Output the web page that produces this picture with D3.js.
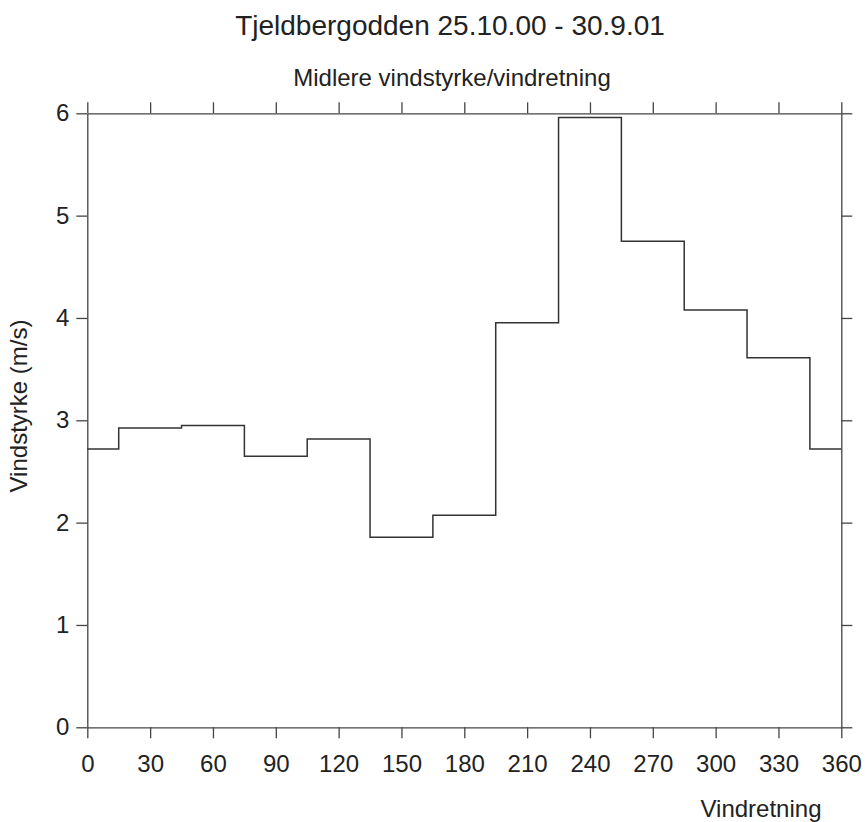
<!DOCTYPE html>
<html>
<head>
<meta charset="utf-8">
<script src="https://cdn.jsdelivr.net/npm/d3@7"></script>
<style>
  body { margin: 0; background: #fff; }
  text { font-family: "Liberation Sans", Arial, sans-serif; fill: #222; }
</style>
</head>
<body>
<div id="graph"></div>
<script>
// sector centres (deg) and mean wind speed (m/s)
var directions = [0, 30, 60, 90, 120, 150, 180, 210, 240, 270, 300, 330];
var speeds = [2.72, 2.925, 2.95, 2.648, 2.817, 1.857, 2.072, 3.954, 5.96, 4.749, 4.078, 3.612];
var xTicks = [0, 30, 60, 90, 120, 150, 180, 210, 240, 270, 300, 330, 360];
var yTicks = [0, 1, 2, 3, 4, 5, 6];

var title = "Tjeldbergodden 25.10.00 - 30.9.01",
    subtitle = "Midlere vindstyrke/vindretning",
    xLabel = "Vindretning",
    yLabel = "Vindstyrke (m/s)";

var margin = {top: 113.3, right: 23.7, bottom: 94.7, left: 87.3},
    width = 865 - margin.left - margin.right,
    height = 822 - margin.top - margin.bottom;

var root = d3.select("#graph")
  .append("svg")
    .attr("width", 865)
    .attr("height", 822);

var svg = root.append("g")
    .attr("transform", "translate(" + margin.left + "," + margin.top + ")");

var x = d3.scaleLinear().domain([0, 360]).range([0, width]);
var y = d3.scaleLinear().domain([0, 6]).range([height, 0]);

var axisColor = "#444";

function styleAxis(g, labels) {
  g.selectAll(".domain").attr("stroke", axisColor).attr("stroke-width", 1.3);
  g.selectAll(".tick line").attr("stroke", axisColor).attr("stroke-width", 1.3);
  if (!labels) g.selectAll(".tick text").remove();
  else g.selectAll(".tick text").style("font-size", "24px").attr("fill", "#222");
}

svg.append("g")
  .attr("transform", "translate(0," + height + ")")
  .call(d3.axisBottom(x).tickValues(xTicks).tickSize(11).tickSizeOuter(0).tickPadding(17))
  .call(styleAxis, true);

svg.append("g")
  .call(d3.axisTop(x).tickValues(xTicks).tickSize(11).tickSizeOuter(0))
  .call(styleAxis, false);

svg.append("g")
  .call(d3.axisLeft(y).tickValues(yTicks).tickFormat(d3.format("d"))
    .tickSize(11).tickSizeOuter(0).tickPadding(7))
  .call(styleAxis, true);

svg.append("g")
  .attr("transform", "translate(" + width + ",0)")
  .call(d3.axisRight(y).tickValues(yTicks).tickSize(11).tickSizeOuter(0))
  .call(styleAxis, false);

// step edges: sector 0 wraps round 345-15
var steps = [{a: 0, v: speeds[0]}];
directions.slice(1).forEach(function(d, i) {
  steps.push({a: d - 15, v: speeds[i + 1]});
});
steps.push({a: 345, v: speeds[0]});
steps.push({a: 360, v: speeds[0]});

svg.append("path")
  .datum(steps)
  .attr("fill", "none")
  .attr("stroke", "#333")
  .attr("stroke-width", 1.5)
  .attr("d", d3.line()
    .curve(d3.curveStepAfter)
    .x(d => x(d.a))
    .y(d => y(d.v)));

root.append("text")
  .attr("x", 450).attr("y", 35)
  .attr("text-anchor", "middle")
  .style("font-size", "28px")
  .text(title);

root.append("text")
  .attr("x", 452).attr("y", 86)
  .attr("text-anchor", "middle")
  .style("font-size", "24px")
  .text(subtitle);

root.append("text")
  .attr("x", 761).attr("y", 817)
  .attr("text-anchor", "middle")
  .style("font-size", "24px")
  .text(xLabel);

root.append("text")
  .attr("transform", "translate(27,406) rotate(-90)")
  .attr("text-anchor", "middle")
  .style("font-size", "24px")
  .text(yLabel);
</script>
</body>
</html>
